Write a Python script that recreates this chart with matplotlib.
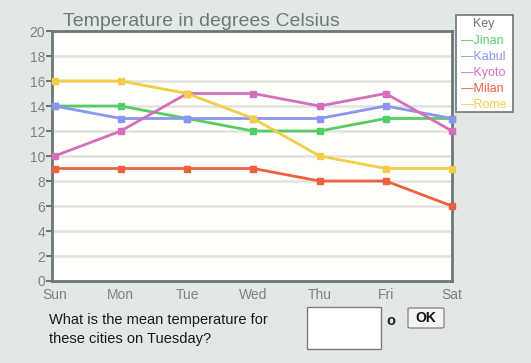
import matplotlib
matplotlib.use("Agg")
import matplotlib.pyplot as plt
from matplotlib.patches import Rectangle, FancyBboxPatch

plt.rcParams['font.family'] = ['Liberation Sans', 'DejaVu Sans']

# data
days = ["Sun", "Mon", "Tue", "Wed", "Thu", "Fri", "Sat"]
cities = ["Jinan", "Kabul", "Kyoto", "Milan", "Rome"]
jinan = [14, 14, 13, 12, 12, 13, 13]
kabul = [14, 13, 13, 13, 13, 14, 13]
kyoto = [10, 12, 15, 15, 14, 15, 12]
milan = [9, 9, 9, 9, 8, 8, 6]
rome = [16, 16, 15, 13, 10, 9, 9]
series = [jinan, kabul, kyoto, milan, rome]
colors = ["#55cc66", "#8a95ee", "#d56fb9", "#ee6040", "#f2cd45"]
yticks = list(range(0, 21, 2))

W, H = 531, 363
bg = "#e3e8e6"
gray = "#6b7878"

fig = plt.figure(figsize=(W / 100, H / 100), dpi=100, facecolor=bg)

def px(x, y, w, h):
    # pixel box (top-left origin) -> figure fraction
    return [x / W, 1 - (y + h) / H, w / W, h / H]

ax = fig.add_axes(px(52, 31, 400, 250))
ax.set_facecolor("#fffffc")

x = list(range(len(days)))
for vals, c in zip(series, colors):
    ax.plot(x, vals, color=c, lw=2, marker="s", ms=4.5, mec=c, mfc=c,
            clip_on=False, zorder=3)

ax.set_xlim(-0.04, 6)
ax.set_ylim(0, 20)
ax.set_yticks(yticks)
ax.set_xticks(x)
ax.set_xticklabels(days)
ax.tick_params(axis="y", colors=gray, labelsize=10, length=4, width=1.5, pad=1)
ax.tick_params(axis="x", colors=gray, labelsize=10, length=0, pad=5)
for lab in ax.get_xticklabels() + ax.get_yticklabels():
    lab.set_color("#7a8484")
ax.yaxis.grid(True, color="#e2e2e0", lw=1.8)
ax.set_axisbelow(True)
for s in ax.spines.values():
    s.set_color(gray)
    s.set_linewidth(2)

fig.text(63 / W, 1 - 21 / H, "Temperature in degrees Celsius", fontsize=14,
         color="#6b7a78", va="center", ha="left")

# key box
fig.patches.append(Rectangle(px(456, 15, 57, 97)[:2], 57 / W, 97 / H,
                             transform=fig.transFigure, facecolor="white",
                             edgecolor=gray, lw=1.2))
fig.text(484 / W, 1 - 24 / H, "Key", fontsize=9, color="#6b7878",
         ha="center", va="center")
for i, (name, c) in enumerate(zip(cities, colors)):
    fig.text(461 / W, 1 - (41 + i * 16) / H, "\u2014" + name, fontsize=9,
             color=c, ha="left", va="center")

# question area
fig.text(49 / W, 1 - 320 / H, "What is the mean temperature for", fontsize=10.5,
         color="#1a1a1a", va="center")
fig.text(49 / W, 1 - 339 / H, "these cities on Tuesday?", fontsize=10.5,
         color="#1a1a1a", va="center")
fig.patches.append(Rectangle(px(307, 307, 74, 42)[:2], 74 / W, 42 / H,
                             transform=fig.transFigure, facecolor="white",
                             edgecolor="#7a7a7a", lw=1))
fig.text(391 / W, 1 - 321 / H, "o", fontsize=10.5, fontweight="bold",
         color="#222222", ha="center", va="center")
fig.patches.append(FancyBboxPatch(px(408, 308, 36, 20)[:2], 36 / W, 20 / H,
                                  boxstyle="round,pad=0,rounding_size=0.004",
                                  transform=fig.transFigure, facecolor="#f4f4f4",
                                  edgecolor="#8a8a8a", lw=1))
fig.text(426 / W, 1 - 318 / H, "OK", fontsize=10, fontweight="bold",
         color="#111111", ha="center", va="center")

fig.savefig("out.png", dpi=100, facecolor=bg)
